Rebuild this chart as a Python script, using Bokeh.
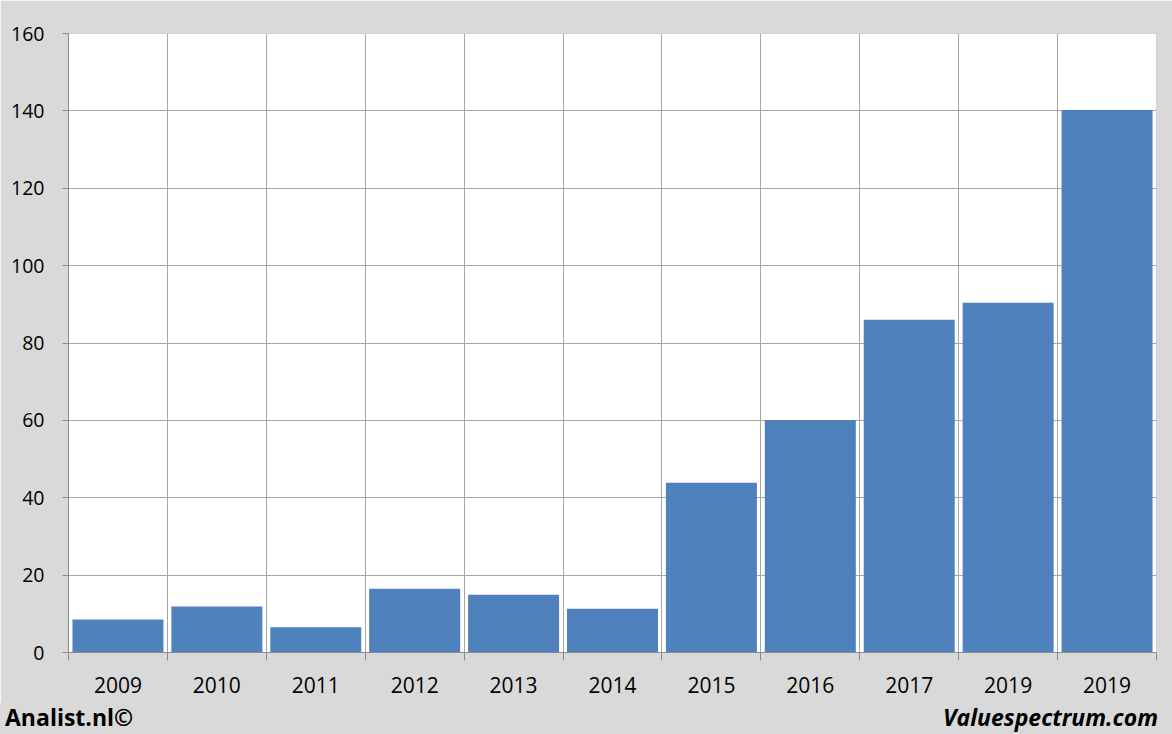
from bokeh.plotting import figure
from bokeh.models import Range1d, FixedTicker, ColumnDataSource, BoxAnnotation, Div
from bokeh.layouts import column
from bokeh.embed import file_html
from bokeh.resources import INLINE

# ---- data ----
years = ["2009", "2010", "2011", "2012", "2013", "2014", "2015", "2016", "2017", "2019", "2019"]
values = [8.5, 11.9, 6.5, 16.5, 14.9, 11.3, 43.9, 60.1, 86.0, 90.4, 140.2]
y_ticks = [0, 20, 40, 60, 80, 100, 120, 140, 160]
footer_left = "Analist.nl©"
footer_right = "Valuespectrum.com"

GRID = "#a6a6a6"
AXIS = "#8c8c8c"
BAR = "#4f81bd"
BG = "#d9d9d9"
FONT = "Open Sans"

n = len(years)
centers = [i + 0.5 for i in range(n)]
bounds = list(range(n + 1))

src = ColumnDataSource(dict(x=centers, top=values, year=years))

p = figure(width=1172, height=703, output_backend="svg", toolbar_location=None,
           x_range=Range1d(0, n), y_range=Range1d(0, y_ticks[-1]),
           min_border_left=68, min_border_right=16, min_border_top=33, min_border_bottom=51)
p.background_fill_color = "white"
p.border_fill_color = BG
p.outline_line_color = GRID

# white panel behind the chart
panel = BoxAnnotation(left=8, right=1160, top=7, bottom=702,
                      left_units="canvas", right_units="canvas",
                      top_units="canvas", bottom_units="canvas",
                      fill_color="white", fill_alpha=1.0,
                      line_color="#bfbfbf", line_width=1, level="image")
p.add_layout(panel)

p.vbar(x="x", top="top", bottom=0, width=0.92, source=src, fill_color=BAR, line_color=None)

# x axis: labels at category centres, ticks at category boundaries
p.xaxis.ticker = FixedTicker(ticks=centers, minor_ticks=bounds)
p.xaxis.major_label_overrides = {c: y for c, y in zip(centers, years)}
p.xaxis.major_tick_out = 0
p.xaxis.major_tick_in = 0
p.xaxis.minor_tick_out = 8
p.xaxis.minor_tick_in = 0
p.xaxis.minor_tick_line_color = AXIS
p.xaxis.axis_line_color = AXIS
p.xaxis.major_label_text_font = FONT
p.xaxis.major_label_text_font_size = "21px"
p.xaxis.major_label_text_color = "black"
p.xaxis.major_label_standoff = 16

p.yaxis.ticker = FixedTicker(ticks=y_ticks)
p.yaxis.major_tick_out = 6
p.yaxis.major_tick_in = 0
p.yaxis.minor_tick_line_color = None
p.yaxis.major_tick_line_color = AXIS
p.yaxis.axis_line_color = AXIS
p.yaxis.major_label_text_font = FONT
p.yaxis.major_label_text_font_size = "19.5px"
p.yaxis.major_label_text_color = "black"
p.yaxis.major_label_standoff = 18

p.xgrid.ticker = FixedTicker(ticks=bounds)
p.xgrid.grid_line_color = GRID
p.ygrid.ticker = FixedTicker(ticks=y_ticks)
p.ygrid.grid_line_color = GRID

# footer strip with the two credits
footer_html = (
    "<div style=\"display:flex;justify-content:space-between;align-items:center;"
    "box-sizing:border-box;width:1172px;height:31px;padding:0 14px 2px 5px;"
    "font-family:'Open Sans';font-size:23px;font-weight:bold;color:black;\">"
    f"<span>{footer_left}</span>"
    f"<span style=\"font-style:italic\">{footer_right}</span>"
    "</div>"
)
footer = Div(text=footer_html, width=1172, height=31,
             styles={"background-color": BG, "margin": "0", "padding": "0"})

layout = column(p, footer, spacing=0)
open("out.html", "w").write(file_html(layout, INLINE))
